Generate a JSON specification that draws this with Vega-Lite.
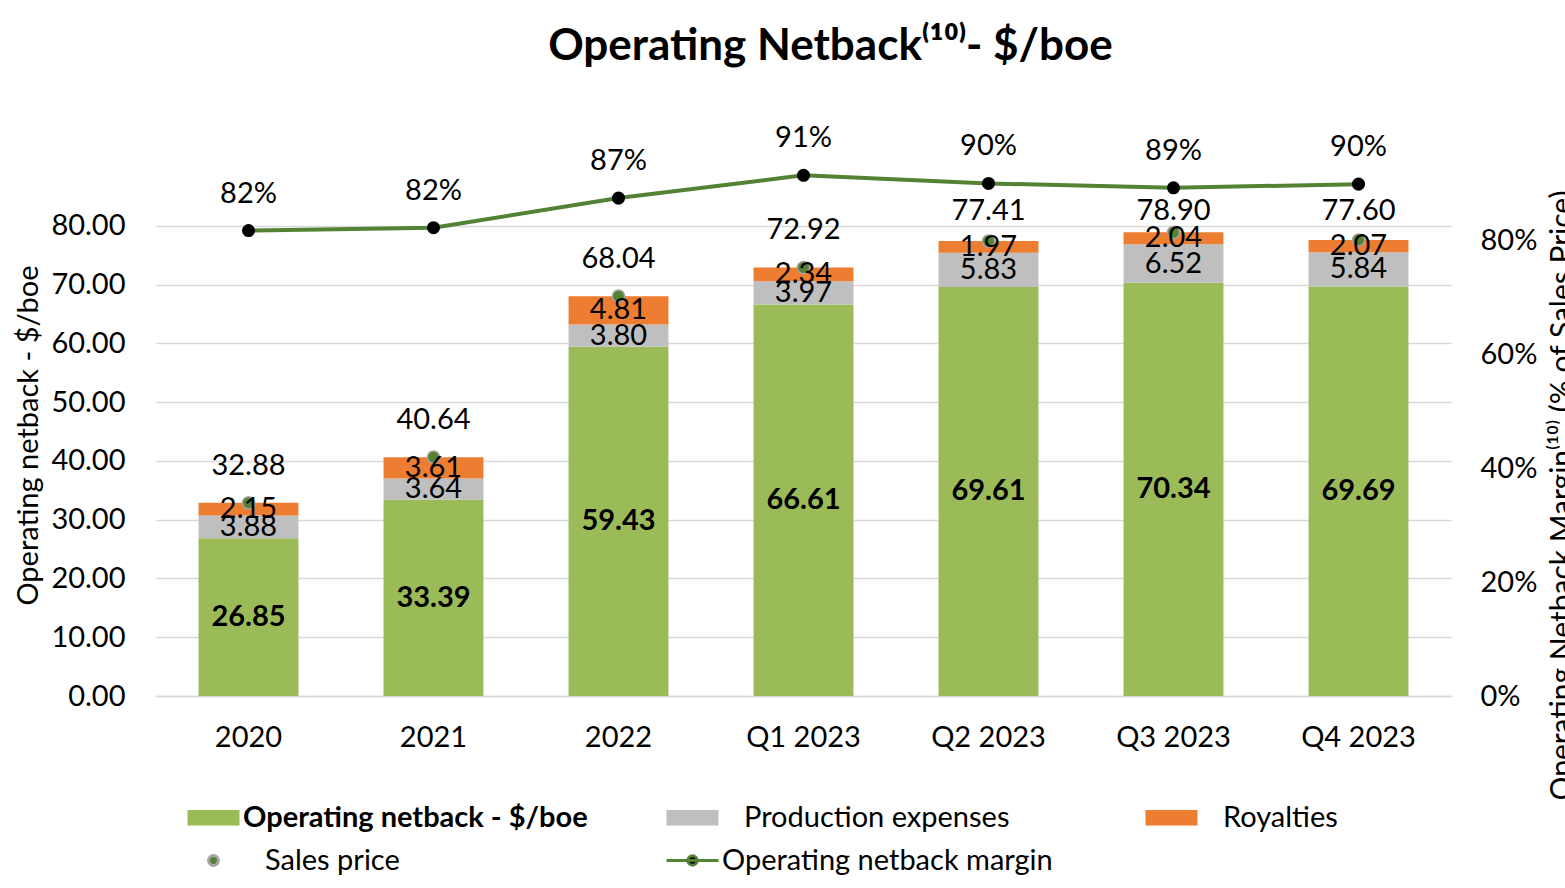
{
  "$schema": "https://vega.github.io/schema/vega-lite/v6.json",
  "width": 1295,
  "height": 570,
  "autosize": {"type": "none"},
  "padding": {"left": 156, "top": 126, "right": 114, "bottom": 192},
  "background": "white",
  "config": {
    "font": "Lato",
    "view": {"stroke": null},
    "axis": {"labelColor": "black", "titleColor": "black", "labelFontWeight": "normal"},
    "text": {"color": "black"}
  },
  "title": {
    "text": "Operating Netback⁽¹⁰⁾- $/boe",
    "fontSize": 44,
    "fontWeight": "bold",
    "color": "black",
    "anchor": "middle",
    "frame": "group",
    "dx": 27,
    "offset": 20,
    "baseline": "alphabetic"
  },
  "datasets": {
    "bars": [
      {"cat": "2020", "series": "Operating netback - $/boe", "value": 26.85},
      {"cat": "2020", "series": "Production expenses", "value": 3.88},
      {"cat": "2020", "series": "Royalties", "value": 2.15},
      {"cat": "2021", "series": "Operating netback - $/boe", "value": 33.39},
      {"cat": "2021", "series": "Production expenses", "value": 3.64},
      {"cat": "2021", "series": "Royalties", "value": 3.61},
      {"cat": "2022", "series": "Operating netback - $/boe", "value": 59.43},
      {"cat": "2022", "series": "Production expenses", "value": 3.80},
      {"cat": "2022", "series": "Royalties", "value": 4.81},
      {"cat": "Q1 2023", "series": "Operating netback - $/boe", "value": 66.61},
      {"cat": "Q1 2023", "series": "Production expenses", "value": 3.97},
      {"cat": "Q1 2023", "series": "Royalties", "value": 2.34},
      {"cat": "Q2 2023", "series": "Operating netback - $/boe", "value": 69.61},
      {"cat": "Q2 2023", "series": "Production expenses", "value": 5.83},
      {"cat": "Q2 2023", "series": "Royalties", "value": 1.97},
      {"cat": "Q3 2023", "series": "Operating netback - $/boe", "value": 70.34},
      {"cat": "Q3 2023", "series": "Production expenses", "value": 6.52},
      {"cat": "Q3 2023", "series": "Royalties", "value": 2.04},
      {"cat": "Q4 2023", "series": "Operating netback - $/boe", "value": 69.69},
      {"cat": "Q4 2023", "series": "Production expenses", "value": 5.84},
      {"cat": "Q4 2023", "series": "Royalties", "value": 2.07}
    ],
    "cats": [
      {"cat": "2020", "price": 32.88, "margin": 0.8166},
      {"cat": "2021", "price": 40.64, "margin": 0.8216},
      {"cat": "2022", "price": 68.04, "margin": 0.8735},
      {"cat": "Q1 2023", "price": 72.92, "margin": 0.9135},
      {"cat": "Q2 2023", "price": 77.41, "margin": 0.8992},
      {"cat": "Q3 2023", "price": 78.90, "margin": 0.8915},
      {"cat": "Q4 2023", "price": 77.60, "margin": 0.898}
    ]
  },
  "encoding": {
    "x": {
      "field": "cat", "type": "ordinal",
      "sort": ["2020", "2021", "2022", "Q1 2023", "Q2 2023", "Q3 2023", "Q4 2023"],
      "scale": {"paddingInner": 0.46, "paddingOuter": 0.23},
      "axis": {
        "title": null, "labelAngle": 0, "labelFontSize": 29, "ticks": false,
        "domainColor": "#D9D9D9", "domainWidth": 1.5, "labelPadding": 27
      }
    }
  },
  "layer": [
    {
      "layer": [
        {
          "data": {"name": "bars"},
          "mark": {"type": "bar"},
          "encoding": {
            "y": {
              "field": "value", "type": "quantitative", "stack": "zero",
              "scale": {"domain": [0, 97], "nice": false},
              "axis": {
                "title": "Operating netback - $/boe",
                "values": [0, 10, 20, 30, 40, 50, 60, 70, 80],
                "format": ".2f",
                "grid": true, "gridColor": "#D9D9D9", "gridWidth": 1.5,
                "domain": false, "ticks": false,
                "labelFontSize": 29, "labelPadding": 31,
                "titleFontSize": 29, "titleFontWeight": "normal",
                "titleAngle": -90, "titleX": -128, "titleY": 309,
                "titleAlign": "center", "titleBaseline": "middle"
              }
            },
            "order": {"field": "series", "type": "nominal", "sort": "ascending"},
            "color": {
              "field": "series", "type": "nominal",
              "scale": {
                "domain": ["Operating netback - $/boe", "Production expenses", "Royalties", "Sales price", "Operating netback margin"],
                "range": ["#9BBB59", "#BFBFBF", "#ED7D31", "#548235", "#000000"]
              },
              "legend": {
                "title": null,
                "orient": "none",
                "legendX": 30,
                "legendY": 664,
                "direction": "horizontal",
                "columns": 3,
                "gridAlign": "all",
                "columnPadding": 72,
                "rowPadding": 0,
                "padding": 0,
                "symbolSize": 2704,
                "symbolStrokeWidth": 3,
                "symbolOpacity": 1,
                "labelFontSize": 29,
                "labelColor": "black",
                "labelOffset": 2,
                "labelLimit": 700,
                "encode": {
                  "symbols": {
                    "update": {
                      "shape": {"signal": "datum.value == 'Sales price' ? 'M-0.19,0A0.19,0.19,0,1,0,0.19,0A0.19,0.19,0,1,0,-0.19,0Z' : datum.value == 'Operating netback margin' ? 'M-1,0H1M-0.18,0A0.18,0.18,0,1,0,0.18,0A0.18,0.18,0,1,0,-0.18,0Z' : 'M-1,-0.3H1V0.3H-1Z'"},
                      "stroke": {"signal": "datum.value == 'Sales price' ? '#A5A5A5' : datum.value == 'Operating netback margin' ? '#548235' : 'transparent'"}
                    }
                  },
                  "labels": {
                    "update": {
                      "dx": {"signal": "(datum.value == 'Production expenses' || datum.value == 'Royalties' || datum.value == 'Sales price') ? 22 : 0"},
                      "fontWeight": {"signal": "datum.value == 'Operating netback - $/boe' ? 'bold' : 'normal'"}
                    }
                  }
                }
              }
            }
          }
        },
        {
          "data": {"name": "cats"},
          "mark": {"type": "point", "filled": true, "fill": "#548235", "stroke": "#A5A5A5", "strokeWidth": 1.5, "size": 150, "opacity": 1},
          "encoding": {
            "y": {"field": "price", "type": "quantitative", "scale": {"domain": [0, 97], "nice": false}}
          }
        },
        {
          "data": {"name": "bars"},
          "transform": [
            {"stack": "value", "groupby": ["cat"], "sort": [{"field": "series", "order": "ascending"}], "as": ["v0", "v1"]},
            {"calculate": "(datum.v0 + datum.v1) / 2", "as": "mid"},
            {"filter": "datum.series != 'Operating netback - $/boe'"}
          ],
          "mark": {"type": "text", "fontSize": 29, "baseline": "middle"},
          "encoding": {
            "y": {"field": "mid", "type": "quantitative", "scale": {"domain": [0, 97], "nice": false}},
            "text": {"field": "value", "type": "quantitative", "format": ".2f"}
          }
        },
        {
          "data": {"name": "bars"},
          "transform": [
            {"stack": "value", "groupby": ["cat"], "sort": [{"field": "series", "order": "ascending"}], "as": ["v0", "v1"]},
            {"calculate": "(datum.v0 + datum.v1) / 2", "as": "mid"},
            {"filter": "datum.series == 'Operating netback - $/boe'"}
          ],
          "mark": {"type": "text", "fontSize": 29, "fontWeight": "bold", "baseline": "middle"},
          "encoding": {
            "y": {"field": "mid", "type": "quantitative", "scale": {"domain": [0, 97], "nice": false}},
            "text": {"field": "value", "type": "quantitative", "format": ".2f"}
          }
        },
        {
          "data": {"name": "cats"},
          "transform": [
            {"calculate": "min(datum.price + 6.3, 82.5)", "as": "labelPos"}
          ],
          "mark": {"type": "text", "fontSize": 29, "baseline": "middle"},
          "encoding": {
            "y": {"field": "labelPos", "type": "quantitative", "scale": {"domain": [0, 97], "nice": false}},
            "text": {"field": "price", "type": "quantitative", "format": ".2f"}
          }
        }
      ]
    },
    {
      "data": {"name": "cats"},
      "layer": [
        {
          "mark": {"type": "line", "color": "#548235", "strokeWidth": 4},
          "encoding": {
            "y": {
              "field": "margin", "type": "quantitative",
              "scale": {"domain": [0, 1], "nice": false},
              "axis": {
                "orient": "right",
                "values": [0, 0.2, 0.4, 0.6, 0.8],
                "format": ".0%",
                "grid": false, "domain": false, "ticks": false,
                "labelFontSize": 29, "labelPadding": 29,
                "title": "Operating Netback Margin⁽¹⁰⁾ (% of Sales Price)",
                "titleFontSize": 30, "titleFontWeight": "normal",
                "titleAngle": -90, "titleX": 111, "titleY": 369,
                "titleAlign": "center", "titleBaseline": "middle"
              }
            }
          }
        },
        {
          "mark": {"type": "point", "filled": true, "color": "black", "size": 170, "opacity": 1},
          "encoding": {
            "y": {"field": "margin", "type": "quantitative", "scale": {"domain": [0, 1], "nice": false}}
          }
        },
        {
          "mark": {"type": "text", "fontSize": 29, "baseline": "middle", "dy": -37},
          "encoding": {
            "y": {"field": "margin", "type": "quantitative", "scale": {"domain": [0, 1], "nice": false}},
            "text": {"field": "margin", "type": "quantitative", "format": ".0%"}
          }
        }
      ]
    }
  ],
  "resolve": {"scale": {"y": "independent"}}
}
